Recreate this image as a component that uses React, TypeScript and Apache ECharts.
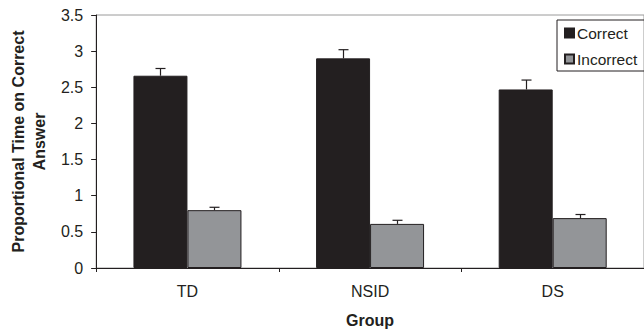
import React, { useEffect, useRef } from "react";
import * as echarts from "echarts";

const categories = ["TD", "NSID", "DS"];
const correctValues = [2.66, 2.9, 2.47];
const correctErrors = [0.1, 0.12, 0.13];
const incorrectValues = [0.8, 0.61, 0.69];
const incorrectErrors = [0.04, 0.05, 0.05];
const yTicks = [0, 0.5, 1, 1.5, 2, 2.5, 3, 3.5];

const FONT = "Liberation Sans, Arial, sans-serif";
const BAR_W = 54;

export default function App() {
  const ref = useRef<HTMLDivElement>(null);
  useEffect(() => {
    const chart = echarts.init(ref.current!, undefined, { renderer: "svg" });
    const errSeries = (vals: number[], errs: number[], side: number, name: string) => ({
      type: "custom",
      name,
      silent: true,
      z: 5,
      data: vals.map((v, i) => [i, v, v + errs[i]]),
      renderItem: (params: any, api: any) => {
        const i = api.value(0);
        const base = api.coord([i, api.value(1)]);
        const top = api.coord([i, api.value(2)]);
        const x = Math.round(base[0] + (side * BAR_W) / 2) + 0.5;
        const cap = 5;
        return {
          type: "group",
          children: [
            { type: "line", shape: { x1: x, y1: base[1], x2: x, y2: top[1] }, style: { stroke: "#231f20", lineWidth: 1.2 } },
            { type: "line", shape: { x1: x - cap, y1: top[1], x2: x + cap, y2: top[1] }, style: { stroke: "#231f20", lineWidth: 1.2 } },
          ],
        };
      },
    });
    chart.setOption({
      animation: false,
      backgroundColor: "#fff",
      textStyle: { fontFamily: FONT },
      grid: { left: 93, top: 15, bottom: 68, width: 556, show: true, borderColor: "#9a9a9a", borderWidth: 1 },
      legend: {
        orient: "vertical",
        left: 557,
        top: 20,
        data: [
          { name: "Correct", icon: "rect" },
          { name: "Incorrect", icon: "rect" },
        ],
        itemWidth: 9,
        itemHeight: 9,
        itemGap: 10,
        borderColor: "#231f20",
        borderWidth: 1,
        padding: [5, 20, 4, 7],
        textStyle: { fontFamily: FONT, fontSize: 15.5, color: "#231f20", padding: [0, 0, 0, -2] },
      },
      xAxis: {
        type: "category",
        data: categories,
        name: "Group",
        nameLocation: "middle",
        nameGap: 44,
        nameTextStyle: { fontFamily: FONT, fontWeight: "bold", fontSize: 16, color: "#231f20" },
        axisLine: { lineStyle: { color: "#231f20", width: 1 } },
        axisTick: { show: true, length: 4, lineStyle: { color: "#231f20" } },
        axisLabel: { margin: 15, fontFamily: FONT, fontSize: 16, color: "#231f20" },
      },
      yAxis: {
        type: "value",
        min: 0,
        max: 3.5,
        interval: 0.5,
        name: "Proportional Time on Correct\nAnswer",
        nameLocation: "middle",
        nameGap: 43,
        nameRotate: 90,
        nameTextStyle: { fontFamily: FONT, fontWeight: "bold", fontSize: 16, color: "#231f20", lineHeight: 21 },
        axisLine: { show: true, lineStyle: { color: "#231f20", width: 1 } },
        axisTick: { show: true, length: 5, lineStyle: { color: "#231f20" } },
        splitLine: { show: false },
        axisLabel: {
          margin: 13,
          fontFamily: FONT,
          fontSize: 16,
          color: "#231f20",
          formatter: (v: number) => (yTicks.includes(v) ? String(v) : ""),
        },
      },
      series: [
        {
          name: "Correct",
          type: "bar",
          data: correctValues,
          barWidth: BAR_W,
          barGap: "0%",
          itemStyle: { color: "#231f20", borderColor: "#231f20", borderWidth: 1 },
        },
        {
          name: "Incorrect",
          type: "bar",
          data: incorrectValues,
          barWidth: BAR_W,
          barGap: "0%",
          itemStyle: { color: "#939598", borderColor: "#231f20", borderWidth: 1 },
        },
        errSeries(correctValues, correctErrors, -1, "errC"),
        errSeries(incorrectValues, incorrectErrors, 1, "errI"),
      ],
    });
    return () => chart.dispose();
  }, []);
  return <div ref={ref} style={{ width: 644, height: 336, position: "absolute", left: 0, top: 0 }} />;
}
